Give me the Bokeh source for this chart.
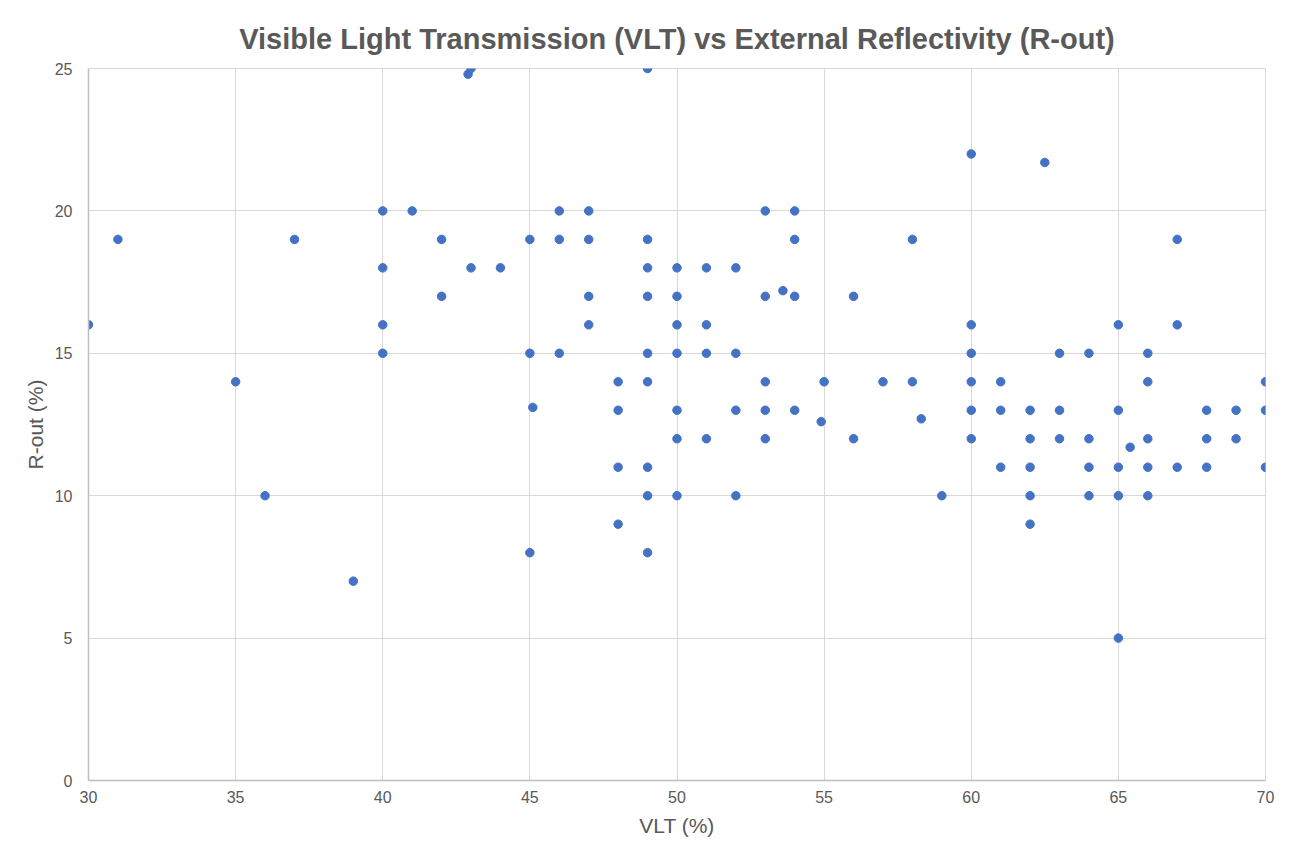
from bokeh.plotting import figure
from bokeh.models import ColumnDataSource, Range1d, FixedTicker, Title
from bokeh.embed import file_html
from bokeh.resources import INLINE

vlt = [30, 31, 35, 36, 37, 39,
       40, 40, 40, 40, 41, 42, 42, 42.9, 43, 43, 44,
       45, 45, 45.1, 45, 46, 46, 46, 47, 47, 47, 47,
       48, 48, 48, 48,
       49, 49, 49, 49, 49, 49, 49, 49, 49,
       50, 50, 50, 50, 50, 50, 50,
       51, 51, 51, 51, 52, 52, 52, 52,
       53, 53, 53, 53, 53, 53.6, 54, 54, 54, 54, 54.9, 55, 56, 56, 57,
       58, 58, 58.3, 59,
       60, 60, 60, 60, 60, 60, 61, 61, 61,
       62, 62, 62, 62, 62, 62.5, 63, 63, 63,
       64, 64, 64, 64, 65, 65, 65, 65, 65, 65.4,
       66, 66, 66, 66, 66, 67, 67, 67, 68, 68, 68, 69, 69, 70, 70, 70]
r_out = [16, 19, 14, 10, 19, 7,
         20, 18, 16, 15, 20, 19, 17, 24.8, 25, 18, 18,
         19, 15, 13.1, 8, 20, 19, 15, 20, 19, 17, 16,
         14, 13, 11, 9,
         25, 19, 18, 17, 15, 14, 11, 10, 8,
         18, 17, 16, 15, 13, 12, 10,
         18, 16, 15, 12, 18, 15, 13, 10,
         20, 17, 14, 13, 12, 17.2, 20, 19, 17, 13, 12.6, 14, 17, 12, 14,
         19, 14, 12.7, 10,
         22, 16, 15, 14, 13, 12, 14, 13, 11,
         13, 12, 11, 10, 9, 21.7, 15, 13, 12,
         15, 12, 11, 10, 16, 13, 11, 10, 5, 11.7,
         15, 14, 12, 11, 10, 19, 16, 11, 13, 12, 11, 13, 12, 14, 13, 11]

x_ticks = [30, 35, 40, 45, 50, 55, 60, 65, 70]
y_ticks = [0, 5, 10, 15, 20, 25]

src = ColumnDataSource(dict(x=vlt, y=r_out))

p = figure(width=1284, height=844, output_backend="svg", toolbar_location=None,
           x_range=Range1d(30, 70), y_range=Range1d(0, 25),
           min_border_left=88, min_border_right=19, min_border_top=68, min_border_bottom=64)

p.title = Title(text="Visible Light Transmission (VLT) vs External Reflectivity (R-out)",
                align="center", text_font="Liberation Sans", text_font_size="29px",
                text_font_style="bold", text_color="#595959", standoff=27)

p.scatter("x", "y", source=src, size=8.5, fill_color="#4472C4", line_color="#4472C4")

for ax in (p.xaxis[0], p.yaxis[0]):
    ax.major_tick_line_color = None
    ax.minor_tick_line_color = None
    ax.axis_line_color = "#bfbfbf"
    ax.axis_line_width = 1.5
    ax.major_label_text_font = "Liberation Sans"
    ax.major_label_text_font_size = "16px"
    ax.major_label_text_color = "#595959"
    ax.axis_label_text_font = "Liberation Sans"
    ax.axis_label_text_font_size = "21px"
    ax.axis_label_text_font_style = "normal"
    ax.axis_label_text_color = "#595959"

p.xaxis.ticker = FixedTicker(ticks=x_ticks)
p.yaxis.ticker = FixedTicker(ticks=y_ticks)
p.xaxis.axis_label = "VLT (%)"
p.yaxis.axis_label = "R-out (%)"
p.xaxis.major_label_standoff = 4
p.yaxis.major_label_standoff = 10
p.xaxis.axis_label_standoff = 8

p.xgrid.grid_line_color = "#d9d9d9"
p.ygrid.grid_line_color = "#d9d9d9"
p.outline_line_color = "#d9d9d9"

open("out.html", "w").write(file_html(p, INLINE))
